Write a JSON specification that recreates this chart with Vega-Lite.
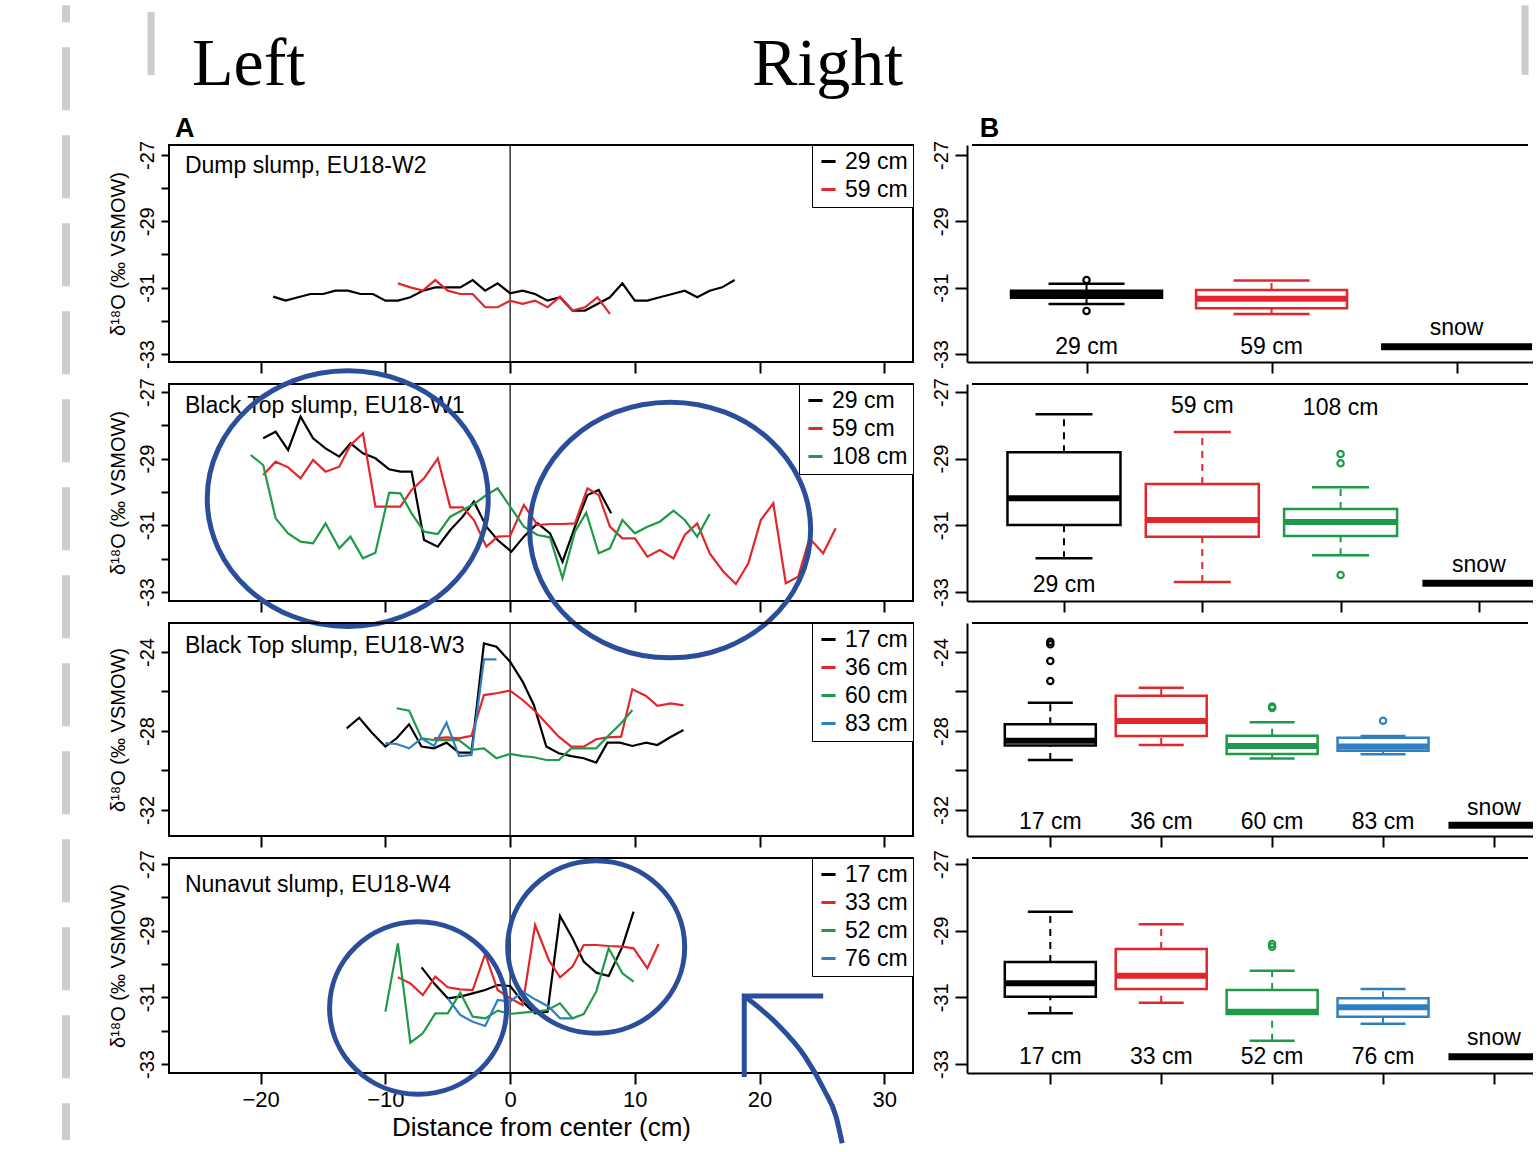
{
"$schema": "https://vega.github.io/schema/vega-lite/v6.json",
"autosize": {"type": "pad"},
"padding": {"left": 60, "top": 0, "right": 0, "bottom": 0},
"background": "white",
"columns": 2,
"align": "each",
"bounds": "flush",
"spacing": {"row": 22, "column": 54},
"resolve": {"scale": {"x": "independent", "y": "independent", "color": "independent", "stroke": "independent"}, "axis": {"x": "independent", "y": "independent"}, "legend": {"color": "independent"}},
"config": {
  "font": "Liberation Sans",
  "view": {"stroke": "#000000", "strokeWidth": 2},
  "axis": {"domainColor": "#000", "domainWidth": 2, "tickColor": "#000", "tickWidth": 2, "labelColor": "#000", "titleColor": "#000", "titleFontWeight": "normal", "grid": false, "labelFont": "Liberation Sans", "titleFont": "Liberation Sans"},
  "legend": {"orient": "top-right", "offset": 0, "padding": 5, "strokeColor": "#000", "fillColor": "#fff", "symbolType": "stroke", "symbolStrokeWidth": 3, "symbolSize": 200, "labelFontSize": 23, "labelFont": "Liberation Sans", "labelColor": "#000", "rowPadding": 4, "labelOffset": 5, "labelLimit": 200}
},
"datasets": {
  "w2": [
    {"cat":"29 cm","x":-19,"y":-31.27},{"cat":"29 cm","x":-18,"y":-31.39},{"cat":"29 cm","x":-17,"y":-31.29},{"cat":"29 cm","x":-16,"y":-31.19},{"cat":"29 cm","x":-15,"y":-31.19},{"cat":"29 cm","x":-14,"y":-31.09},{"cat":"29 cm","x":-13,"y":-31.09},{"cat":"29 cm","x":-12,"y":-31.19},{"cat":"29 cm","x":-11,"y":-31.19},{"cat":"29 cm","x":-10,"y":-31.39},{"cat":"29 cm","x":-9,"y":-31.39},{"cat":"29 cm","x":-8,"y":-31.29},{"cat":"29 cm","x":-7,"y":-31.09},{"cat":"29 cm","x":-6,"y":-30.99},{"cat":"29 cm","x":-5,"y":-30.99},{"cat":"29 cm","x":-4,"y":-30.99},{"cat":"29 cm","x":-3,"y":-30.77},{"cat":"29 cm","x":-2,"y":-31.09},{"cat":"29 cm","x":-1,"y":-30.87},{"cat":"29 cm","x":0,"y":-31.17},{"cat":"29 cm","x":1,"y":-31.09},{"cat":"29 cm","x":2,"y":-31.19},{"cat":"29 cm","x":3,"y":-31.39},{"cat":"29 cm","x":4,"y":-31.29},{"cat":"29 cm","x":5,"y":-31.69},{"cat":"29 cm","x":6,"y":-31.69},{"cat":"29 cm","x":7,"y":-31.49},{"cat":"29 cm","x":8,"y":-31.29},{"cat":"29 cm","x":9,"y":-30.87},{"cat":"29 cm","x":10,"y":-31.39},{"cat":"29 cm","x":11,"y":-31.39},{"cat":"29 cm","x":12,"y":-31.29},{"cat":"29 cm","x":13,"y":-31.19},{"cat":"29 cm","x":14,"y":-31.09},{"cat":"29 cm","x":15,"y":-31.29},{"cat":"29 cm","x":16,"y":-31.09},{"cat":"29 cm","x":17,"y":-30.99},{"cat":"29 cm","x":18,"y":-30.77},
    {"cat":"59 cm","x":-9,"y":-30.87},{"cat":"59 cm","x":-8,"y":-30.99},{"cat":"59 cm","x":-7,"y":-31.09},{"cat":"59 cm","x":-6,"y":-30.77},{"cat":"59 cm","x":-5,"y":-31.09},{"cat":"59 cm","x":-4,"y":-31.19},{"cat":"59 cm","x":-3,"y":-31.19},{"cat":"59 cm","x":-2,"y":-31.59},{"cat":"59 cm","x":-1,"y":-31.59},{"cat":"59 cm","x":0,"y":-31.39},{"cat":"59 cm","x":1,"y":-31.49},{"cat":"59 cm","x":2,"y":-31.39},{"cat":"59 cm","x":3,"y":-31.59},{"cat":"59 cm","x":4,"y":-31.27},{"cat":"59 cm","x":5,"y":-31.69},{"cat":"59 cm","x":6,"y":-31.59},{"cat":"59 cm","x":7,"y":-31.29},{"cat":"59 cm","x":8,"y":-31.79}
  ],
  "w1": [
    {"cat":"29 cm","x":-19.8,"y":-28.39},{"cat":"29 cm","x":-18.8,"y":-28.19},{"cat":"29 cm","x":-17.8,"y":-28.74},{"cat":"29 cm","x":-16.8,"y":-27.74},{"cat":"29 cm","x":-15.8,"y":-28.39},{"cat":"29 cm","x":-14.8,"y":-28.69},{"cat":"29 cm","x":-13.7,"y":-28.94},{"cat":"29 cm","x":-12.8,"y":-28.54},{"cat":"29 cm","x":-11.8,"y":-28.84},{"cat":"29 cm","x":-10.8,"y":-28.99},{"cat":"29 cm","x":-9.7,"y":-29.32},{"cat":"29 cm","x":-8.8,"y":-29.39},{"cat":"29 cm","x":-7.9,"y":-29.39},{"cat":"29 cm","x":-6.9,"y":-31.44},{"cat":"29 cm","x":-5.8,"y":-31.64},{"cat":"29 cm","x":-4.8,"y":-31.14},{"cat":"29 cm","x":-3.8,"y":-30.74},{"cat":"29 cm","x":-2.9,"y":-30.29},{"cat":"29 cm","x":-1.9,"y":-31.04},{"cat":"29 cm","x":-1.0,"y":-31.44},{"cat":"29 cm","x":0.1,"y":-31.79},{"cat":"29 cm","x":1.1,"y":-31.34},{"cat":"29 cm","x":2.2,"y":-30.94},{"cat":"29 cm","x":3.2,"y":-31.24},{"cat":"29 cm","x":4.2,"y":-32.09},{"cat":"29 cm","x":5.2,"y":-31.04},{"cat":"29 cm","x":6.2,"y":-30.09},{"cat":"29 cm","x":7.1,"y":-29.94},{"cat":"29 cm","x":8.1,"y":-30.64},
    {"cat":"59 cm","x":-19.8,"y":-29.49},{"cat":"59 cm","x":-18.8,"y":-29.09},{"cat":"59 cm","x":-17.8,"y":-29.26},{"cat":"59 cm","x":-16.8,"y":-29.59},{"cat":"59 cm","x":-15.8,"y":-29.04},{"cat":"59 cm","x":-14.8,"y":-29.39},{"cat":"59 cm","x":-13.7,"y":-29.24},{"cat":"59 cm","x":-12.8,"y":-28.59},{"cat":"59 cm","x":-11.8,"y":-28.24},{"cat":"59 cm","x":-10.8,"y":-30.44},{"cat":"59 cm","x":-9.7,"y":-30.44},{"cat":"59 cm","x":-8.8,"y":-30.44},{"cat":"59 cm","x":-7.9,"y":-29.94},{"cat":"59 cm","x":-6.9,"y":-29.59},{"cat":"59 cm","x":-5.8,"y":-28.99},{"cat":"59 cm","x":-4.8,"y":-30.46},{"cat":"59 cm","x":-3.8,"y":-30.46},{"cat":"59 cm","x":-2.9,"y":-30.84},{"cat":"59 cm","x":-1.9,"y":-31.64},{"cat":"59 cm","x":-1.0,"y":-31.34},{"cat":"59 cm","x":0,"y":-31.32},{"cat":"59 cm","x":1.1,"y":-30.39},{"cat":"59 cm","x":2.2,"y":-30.99},{"cat":"59 cm","x":3.2,"y":-30.96},{"cat":"59 cm","x":4.2,"y":-30.96},{"cat":"59 cm","x":5.2,"y":-30.94},{"cat":"59 cm","x":6.2,"y":-29.89},{"cat":"59 cm","x":7.1,"y":-30.09},{"cat":"59 cm","x":8.0,"y":-31.04},{"cat":"59 cm","x":9.0,"y":-31.39},{"cat":"59 cm","x":10.0,"y":-31.39},{"cat":"59 cm","x":11.0,"y":-31.94},{"cat":"59 cm","x":12.0,"y":-31.74},{"cat":"59 cm","x":13.1,"y":-31.99},{"cat":"59 cm","x":14.0,"y":-31.29},{"cat":"59 cm","x":15.0,"y":-30.94},{"cat":"59 cm","x":16.0,"y":-31.84},{"cat":"59 cm","x":17.1,"y":-32.39},{"cat":"59 cm","x":18.1,"y":-32.76},{"cat":"59 cm","x":19.1,"y":-32.14},{"cat":"59 cm","x":20.1,"y":-30.84},{"cat":"59 cm","x":21.1,"y":-30.34},{"cat":"59 cm","x":22.1,"y":-32.74},{"cat":"59 cm","x":23.1,"y":-32.54},{"cat":"59 cm","x":24.0,"y":-31.39},{"cat":"59 cm","x":25.1,"y":-31.84},{"cat":"59 cm","x":26.1,"y":-31.09},
    {"cat":"108 cm","x":-20.8,"y":-28.89},{"cat":"108 cm","x":-19.8,"y":-29.19},{"cat":"108 cm","x":-18.8,"y":-30.79},{"cat":"108 cm","x":-17.8,"y":-31.24},{"cat":"108 cm","x":-16.8,"y":-31.49},{"cat":"108 cm","x":-15.8,"y":-31.54},{"cat":"108 cm","x":-14.8,"y":-30.94},{"cat":"108 cm","x":-13.7,"y":-31.69},{"cat":"108 cm","x":-12.8,"y":-31.34},{"cat":"108 cm","x":-11.8,"y":-31.99},{"cat":"108 cm","x":-10.8,"y":-31.82},{"cat":"108 cm","x":-9.7,"y":-30.02},{"cat":"108 cm","x":-8.8,"y":-30.04},{"cat":"108 cm","x":-7.9,"y":-30.64},{"cat":"108 cm","x":-6.9,"y":-31.19},{"cat":"108 cm","x":-5.8,"y":-31.26},{"cat":"108 cm","x":-4.8,"y":-30.74},{"cat":"108 cm","x":-3.8,"y":-30.54},{"cat":"108 cm","x":-2.9,"y":-30.36},{"cat":"108 cm","x":-1.9,"y":-30.09},{"cat":"108 cm","x":-1.0,"y":-29.89},{"cat":"108 cm","x":0.1,"y":-30.49},{"cat":"108 cm","x":1.1,"y":-31.04},{"cat":"108 cm","x":2.2,"y":-31.29},{"cat":"108 cm","x":3.2,"y":-31.36},{"cat":"108 cm","x":4.2,"y":-32.59},{"cat":"108 cm","x":5.2,"y":-31.19},{"cat":"108 cm","x":6.1,"y":-30.62},{"cat":"108 cm","x":7.1,"y":-31.84},{"cat":"108 cm","x":8.0,"y":-31.69},{"cat":"108 cm","x":9.0,"y":-30.84},{"cat":"108 cm","x":10.0,"y":-31.24},{"cat":"108 cm","x":11.0,"y":-31.04},{"cat":"108 cm","x":12.0,"y":-30.89},{"cat":"108 cm","x":13.1,"y":-30.56},{"cat":"108 cm","x":14.0,"y":-30.84},{"cat":"108 cm","x":15.0,"y":-31.34},{"cat":"108 cm","x":16.0,"y":-30.66}
  ],
  "w3": [
    {"cat":"17 cm","x":-13.1,"y":-27.87},{"cat":"17 cm","x":-12.1,"y":-27.33},{"cat":"17 cm","x":-11.1,"y":-28.08},{"cat":"17 cm","x":-10.0,"y":-28.79},{"cat":"17 cm","x":-9.1,"y":-28.37},{"cat":"17 cm","x":-8.1,"y":-27.66},{"cat":"17 cm","x":-7.1,"y":-28.79},{"cat":"17 cm","x":-6.1,"y":-28.88},{"cat":"17 cm","x":-5.1,"y":-28.59},{"cat":"17 cm","x":-4.1,"y":-29.10},{"cat":"17 cm","x":-3.1,"y":-29.10},{"cat":"17 cm","x":-2.1,"y":-23.56},{"cat":"17 cm","x":-1.1,"y":-23.73},{"cat":"17 cm","x":0,"y":-24.49},{"cat":"17 cm","x":1.0,"y":-25.50},{"cat":"17 cm","x":1.9,"y":-26.68},{"cat":"17 cm","x":2.9,"y":-28.79},{"cat":"17 cm","x":3.9,"y":-29.13},{"cat":"17 cm","x":4.9,"y":-29.27},{"cat":"17 cm","x":5.9,"y":-29.38},{"cat":"17 cm","x":6.9,"y":-29.60},{"cat":"17 cm","x":7.8,"y":-28.59},{"cat":"17 cm","x":8.8,"y":-28.59},{"cat":"17 cm","x":9.8,"y":-28.76},{"cat":"17 cm","x":10.9,"y":-28.59},{"cat":"17 cm","x":11.8,"y":-28.71},{"cat":"17 cm","x":12.9,"y":-28.29},{"cat":"17 cm","x":13.9,"y":-27.95},
    {"cat":"36 cm","x":-6.1,"y":-28.37},{"cat":"36 cm","x":-5.1,"y":-28.32},{"cat":"36 cm","x":-4.1,"y":-28.37},{"cat":"36 cm","x":-3.1,"y":-28.25},{"cat":"36 cm","x":-2.1,"y":-26.18},{"cat":"36 cm","x":-1.1,"y":-26.09},{"cat":"36 cm","x":0,"y":-25.96},{"cat":"36 cm","x":1.0,"y":-26.43},{"cat":"36 cm","x":1.9,"y":-26.94},{"cat":"36 cm","x":2.9,"y":-27.61},{"cat":"36 cm","x":3.9,"y":-28.29},{"cat":"36 cm","x":4.9,"y":-28.79},{"cat":"36 cm","x":5.9,"y":-28.79},{"cat":"36 cm","x":6.9,"y":-28.42},{"cat":"36 cm","x":7.8,"y":-28.32},{"cat":"36 cm","x":8.9,"y":-28.29},{"cat":"36 cm","x":9.8,"y":-25.89},{"cat":"36 cm","x":10.9,"y":-26.23},{"cat":"36 cm","x":11.8,"y":-26.73},{"cat":"36 cm","x":12.9,"y":-26.60},{"cat":"36 cm","x":13.9,"y":-26.70},
    {"cat":"60 cm","x":-9.1,"y":-26.85},{"cat":"60 cm","x":-8.1,"y":-26.97},{"cat":"60 cm","x":-7.1,"y":-28.37},{"cat":"60 cm","x":-6.1,"y":-28.46},{"cat":"60 cm","x":-5.1,"y":-28.46},{"cat":"60 cm","x":-4.1,"y":-28.46},{"cat":"60 cm","x":-3.1,"y":-28.96},{"cat":"60 cm","x":-2.1,"y":-28.88},{"cat":"60 cm","x":-1.1,"y":-29.38},{"cat":"60 cm","x":0,"y":-29.16},{"cat":"60 cm","x":1.0,"y":-29.27},{"cat":"60 cm","x":1.9,"y":-29.33},{"cat":"60 cm","x":2.9,"y":-29.47},{"cat":"60 cm","x":3.9,"y":-29.47},{"cat":"60 cm","x":4.9,"y":-28.88},{"cat":"60 cm","x":5.9,"y":-28.88},{"cat":"60 cm","x":6.9,"y":-28.88},{"cat":"60 cm","x":7.8,"y":-28.29},{"cat":"60 cm","x":8.9,"y":-27.61},{"cat":"60 cm","x":9.8,"y":-26.94},
    {"cat":"83 cm","x":-10.0,"y":-28.62},{"cat":"83 cm","x":-9.1,"y":-28.66},{"cat":"83 cm","x":-8.1,"y":-28.88},{"cat":"83 cm","x":-7.1,"y":-28.37},{"cat":"83 cm","x":-6.1,"y":-28.76},{"cat":"83 cm","x":-5.1,"y":-27.58},{"cat":"83 cm","x":-4.1,"y":-29.27},{"cat":"83 cm","x":-3.1,"y":-29.22},{"cat":"83 cm","x":-2.1,"y":-24.37},{"cat":"83 cm","x":-1.1,"y":-24.37}
  ],
  "w4": [
    {"cat":"17 cm","x":-7.1,"y":-30.10},{"cat":"17 cm","x":-6.1,"y":-30.58},{"cat":"17 cm","x":-5.0,"y":-31.03},{"cat":"17 cm","x":-4.0,"y":-30.98},{"cat":"17 cm","x":-3.0,"y":-30.88},{"cat":"17 cm","x":-2.0,"y":-30.78},{"cat":"17 cm","x":-1.0,"y":-30.63},{"cat":"17 cm","x":0,"y":-30.66},{"cat":"17 cm","x":1.0,"y":-31.13},{"cat":"17 cm","x":2.0,"y":-31.48},{"cat":"17 cm","x":3.0,"y":-31.43},{"cat":"17 cm","x":4.0,"y":-28.56},{"cat":"17 cm","x":5.0,"y":-29.23},{"cat":"17 cm","x":5.9,"y":-29.93},{"cat":"17 cm","x":6.9,"y":-30.26},{"cat":"17 cm","x":7.9,"y":-30.36},{"cat":"17 cm","x":9.0,"y":-29.48},{"cat":"17 cm","x":9.9,"y":-28.43},
    {"cat":"33 cm","x":-9.0,"y":-30.40},{"cat":"33 cm","x":-8.0,"y":-30.58},{"cat":"33 cm","x":-7.0,"y":-30.93},{"cat":"33 cm","x":-6.0,"y":-30.38},{"cat":"33 cm","x":-5.0,"y":-30.70},{"cat":"33 cm","x":-4.0,"y":-30.76},{"cat":"33 cm","x":-3.0,"y":-30.78},{"cat":"33 cm","x":-2.0,"y":-29.70},{"cat":"33 cm","x":-1.0,"y":-30.78},{"cat":"33 cm","x":0,"y":-31.03},{"cat":"33 cm","x":1.0,"y":-31.23},{"cat":"33 cm","x":2.0,"y":-28.83},{"cat":"33 cm","x":3.1,"y":-29.88},{"cat":"33 cm","x":4.0,"y":-30.40},{"cat":"33 cm","x":5.0,"y":-30.08},{"cat":"33 cm","x":5.9,"y":-29.43},{"cat":"33 cm","x":6.9,"y":-29.43},{"cat":"33 cm","x":7.9,"y":-29.46},{"cat":"33 cm","x":9.0,"y":-29.48},{"cat":"33 cm","x":9.9,"y":-29.53},{"cat":"33 cm","x":11.0,"y":-30.13},{"cat":"33 cm","x":11.9,"y":-29.40},
    {"cat":"52 cm","x":-10.0,"y":-31.43},{"cat":"52 cm","x":-9.0,"y":-29.38},{"cat":"52 cm","x":-8.0,"y":-32.36},{"cat":"52 cm","x":-7.0,"y":-32.08},{"cat":"52 cm","x":-6.0,"y":-31.48},{"cat":"52 cm","x":-5.0,"y":-31.48},{"cat":"52 cm","x":-4.0,"y":-30.86},{"cat":"52 cm","x":-3.0,"y":-31.58},{"cat":"52 cm","x":-2.0,"y":-31.63},{"cat":"52 cm","x":-1.0,"y":-31.40},{"cat":"52 cm","x":0,"y":-31.50},{"cat":"52 cm","x":1.0,"y":-31.46},{"cat":"52 cm","x":2.0,"y":-31.43},{"cat":"52 cm","x":3.0,"y":-31.38},{"cat":"52 cm","x":4.0,"y":-31.18},{"cat":"52 cm","x":5.0,"y":-31.63},{"cat":"52 cm","x":5.9,"y":-31.50},{"cat":"52 cm","x":6.9,"y":-30.83},{"cat":"52 cm","x":7.9,"y":-29.53},{"cat":"52 cm","x":9.0,"y":-30.28},{"cat":"52 cm","x":9.9,"y":-30.53},
    {"cat":"76 cm","x":-5.0,"y":-31.03},{"cat":"76 cm","x":-4.0,"y":-31.53},{"cat":"76 cm","x":-3.0,"y":-31.73},{"cat":"76 cm","x":-2.0,"y":-31.86},{"cat":"76 cm","x":-1.0,"y":-31.08},{"cat":"76 cm","x":0,"y":-31.13},{"cat":"76 cm","x":1.0,"y":-30.83},{"cat":"76 cm","x":2.0,"y":-31.06},{"cat":"76 cm","x":3.1,"y":-31.28},{"cat":"76 cm","x":4.0,"y":-31.63},{"cat":"76 cm","x":5.0,"y":-31.63}
  ],
  "b1": [
    {"pos":1,"cat":"29 cm","lo":-31.49,"q1":-31.30,"med":-31.19,"q3":-31.09,"hi":-30.88},
    {"pos":2,"cat":"59 cm","lo":-31.79,"q1":-31.62,"med":-31.33,"q3":-31.07,"hi":-30.78}
  ],
  "b2": [
    {"pos":1,"cat":"29 cm","lo":-31.99,"q1":-30.99,"med":-30.19,"q3":-28.81,"hi":-27.67},
    {"pos":2,"cat":"59 cm","lo":-32.70,"q1":-31.34,"med":-30.84,"q3":-29.76,"hi":-28.20},
    {"pos":3,"cat":"108 cm","lo":-31.90,"q1":-31.32,"med":-30.90,"q3":-30.51,"hi":-29.86}
  ],
  "b3": [
    {"pos":1,"cat":"17 cm","lo":-29.47,"q1":-28.74,"med":-28.49,"q3":-27.66,"hi":-26.57},
    {"pos":2,"cat":"36 cm","lo":-28.71,"q1":-28.25,"med":-27.49,"q3":-26.21,"hi":-25.81},
    {"pos":3,"cat":"60 cm","lo":-29.40,"q1":-29.16,"med":-28.76,"q3":-28.24,"hi":-27.56},
    {"pos":4,"cat":"83 cm","lo":-29.18,"q1":-29.00,"med":-28.79,"q3":-28.34,"hi":-28.25}
  ],
  "b4": [
    {"pos":1,"cat":"17 cm","lo":-31.48,"q1":-30.98,"med":-30.58,"q3":-29.94,"hi":-28.43},
    {"pos":2,"cat":"33 cm","lo":-31.16,"q1":-30.75,"med":-30.35,"q3":-29.55,"hi":-28.81},
    {"pos":3,"cat":"52 cm","lo":-32.30,"q1":-31.50,"med":-31.43,"q3":-30.78,"hi":-30.20},
    {"pos":4,"cat":"76 cm","lo":-31.79,"q1":-31.58,"med":-31.30,"q3":-31.03,"hi":-30.75}
  ],
  "o1": [{"pos":1,"cat":"29 cm","v":-30.77},{"pos":1,"cat":"29 cm","v":-31.70}],
  "o2": [{"pos":3,"cat":"108 cm","v":-28.86},{"pos":3,"cat":"108 cm","v":-29.14},{"pos":3,"cat":"108 cm","v":-32.49}],
  "o3": [{"pos":1,"cat":"17 cm","v":-23.48},{"pos":1,"cat":"17 cm","v":-23.61},{"pos":1,"cat":"17 cm","v":-24.46},{"pos":1,"cat":"17 cm","v":-25.47},{"pos":3,"cat":"60 cm","v":-26.76},{"pos":3,"cat":"60 cm","v":-26.84},{"pos":4,"cat":"83 cm","v":-27.48}],
  "o4": [{"pos":3,"cat":"52 cm","v":-29.40},{"pos":3,"cat":"52 cm","v":-29.48}],
  "l1": [{"pos":1,"ly":-32.78,"label":"29 cm"},{"pos":2,"ly":-32.78,"label":"59 cm"},{"pos":3,"ly":-32.22,"label":"snow"},{"pos":0.4235,"ly":-26.46,"label":"B"}],
  "l2": [{"pos":1,"ly":-32.79,"label":"29 cm"},{"pos":2,"ly":-27.42,"label":"59 cm"},{"pos":3,"ly":-27.47,"label":"108 cm"},{"pos":4,"ly":-32.19,"label":"snow"}],
  "l3": [{"pos":1,"ly":-32.61,"label":"17 cm"},{"pos":2,"ly":-32.61,"label":"36 cm"},{"pos":3,"ly":-32.61,"label":"60 cm"},{"pos":4,"ly":-32.61,"label":"83 cm"},{"pos":5,"ly":-31.90,"label":"snow"}],
  "l4": [{"pos":1,"ly":-32.79,"label":"17 cm"},{"pos":2,"ly":-32.79,"label":"33 cm"},{"pos":3,"ly":-32.79,"label":"52 cm"},{"pos":4,"ly":-32.79,"label":"76 cm"},{"pos":5,"ly":-32.21,"label":"snow"}]
},
"concat": [
  {
    "width": 744, "height": 217,
    "encoding": {
      "x": {"field": "x", "type": "quantitative", "scale": {"domain": [-27.35, 32.3], "nice": false, "zero": false}, "axis": {"values": [-20,-10,0,10,20,30], "labels": false, "title": null, "tickSize": 11, "domain": false}},
      "y": {"field": "y", "type": "quantitative", "scale": {"domain": [-33.24, -26.70], "nice": false, "zero": false}, "axis": {"values": [-33,-32,-31,-30,-29,-28,-27], "labelExpr": "datum.value % 2 != 0 ? '' + datum.value : ''", "labelAngle": 270, "labelAlign": "center", "labelBaseline": "bottom", "labelPadding": 4, "labelFontSize": 20, "tickSize": 8, "title": "δ¹⁸O (‰ VSMOW)", "titleFontSize": 20, "titlePadding": 9, "domain": false}}
    },
    "layer": [
      {"data": {"values": [{"x": -35.61, "y": -22.49, "y2": -56.69}]}, "mark": {"type": "rule", "color": "#cccccc", "strokeWidth": 8, "strokeDash": [63, 25], "strokeDashOffset": 46}, "encoding": {"y2": {"field": "y2"}}},
      {"data": {"values": [{"x": -28.79, "y": -22.69, "y2": -24.59}]}, "mark": {"type": "rule", "color": "#cccccc", "strokeWidth": 7}, "encoding": {"y2": {"field": "y2"}}},
      {"data": {"values": [{"x": -25.51, "y": -24.89, "label": "Left"}, {"x": 19.39, "y": -24.89, "label": "Right"}]}, "mark": {"type": "text", "align": "left", "baseline": "alphabetic", "font": "Liberation Serif", "fontSize": 68, "color": "#000"}, "encoding": {"text": {"field": "label"}}},
      {"data": {"values": [{"x": -26.87, "y": -26.46, "label": "A"}]}, "mark": {"type": "text", "align": "left", "baseline": "alphabetic", "fontSize": 27, "fontWeight": "bold", "color": "#000"}, "encoding": {"text": {"field": "label"}}},
      {"data": {"values": [{"x": 0, "y": -26.70, "y2": -33.24}]}, "mark": {"type": "rule", "color": "#000", "strokeWidth": 1.2}, "encoding": {"y2": {"field": "y2"}}},
      {"data": {"name": "w2"}, "mark": {"type": "line", "strokeWidth": 2.2}, "encoding": {"color": {"field": "cat", "type": "nominal", "scale": {"domain": ["29 cm", "59 cm"], "range": ["#000000", "#e3262b"]}, "legend": {"title": null}}}},
      {"data": {"values": [{"x": -26.07, "y": -27.54, "label": "Dump slump, EU18-W2"}]}, "mark": {"type": "text", "align": "left", "baseline": "alphabetic", "fontSize": 23, "color": "#000"}, "encoding": {"text": {"field": "label"}}}
    ]
  },
  {
    "width": 566, "height": 217,
    "view": {"stroke": null},
    "encoding": {"x": {"field": "pos", "type": "quantitative", "scale": {"domain": [0.381, 3.386], "nice": false, "zero": false}, "axis": {"values": [1, 2, 3], "labels": false, "title": null, "tickSize": 11}}},
    "layer": [
      {"data": {"name": "b1"}, "mark": {"type": "rule", "strokeWidth": 2, "strokeDash": [7, 6]}, "encoding": {"y": {"field": "q3", "type": "quantitative", "title": null, "scale": {"domain": [-33.24, -26.70], "nice": false, "zero": false}, "axis": {"values": [-33,-32,-31,-30,-29,-28,-27], "labelExpr": "datum.value % 2 != 0 ? '' + datum.value : ''", "labelAngle": 270, "labelAlign": "center", "labelBaseline": "bottom", "labelPadding": 4, "labelFontSize": 20, "tickSize": 12, "title": null}}, "y2": {"field": "hi"}, "color": {"field": "cat", "type": "nominal", "scale": {"domain": ["29 cm", "59 cm"], "range": ["#000000", "#e3262b"]}, "legend": null}}},
      {"data": {"name": "b1"}, "mark": {"type": "rule", "strokeWidth": 2, "strokeDash": [7, 6]}, "encoding": {"y": {"field": "lo", "type": "quantitative", "title": null, "scale": {"domain": [-33.24, -26.70], "nice": false, "zero": false}}, "y2": {"field": "q1"}, "color": {"field": "cat", "type": "nominal", "scale": {"domain": ["29 cm", "59 cm"], "range": ["#000000", "#e3262b"]}, "legend": null}}},
      {"data": {"name": "b1"}, "mark": {"type": "tick", "orient": "horizontal", "size": 76, "thickness": 2.5, "opacity": 1}, "encoding": {"y": {"field": "hi", "type": "quantitative", "title": null, "scale": {"domain": [-33.24, -26.70], "nice": false, "zero": false}}, "color": {"field": "cat", "type": "nominal", "scale": {"domain": ["29 cm", "59 cm"], "range": ["#000000", "#e3262b"]}, "legend": null}}},
      {"data": {"name": "b1"}, "mark": {"type": "tick", "orient": "horizontal", "size": 76, "thickness": 2.5, "opacity": 1}, "encoding": {"y": {"field": "lo", "type": "quantitative", "title": null, "scale": {"domain": [-33.24, -26.70], "nice": false, "zero": false}}, "color": {"field": "cat", "type": "nominal", "scale": {"domain": ["29 cm", "59 cm"], "range": ["#000000", "#e3262b"]}, "legend": null}}},
      {"data": {"name": "b1"}, "mark": {"type": "bar", "size": 151, "fill": "white", "strokeWidth": 2.5}, "encoding": {"y": {"field": "q1", "type": "quantitative", "title": null, "scale": {"domain": [-33.24, -26.70], "nice": false, "zero": false}}, "y2": {"field": "q3"}, "stroke": {"field": "cat", "type": "nominal", "scale": {"domain": ["29 cm", "59 cm"], "range": ["#000000", "#e3262b"]}, "legend": null}}},
      {"data": {"name": "b1"}, "mark": {"type": "tick", "orient": "horizontal", "size": 151, "thickness": 6, "opacity": 1}, "encoding": {"y": {"field": "med", "type": "quantitative", "title": null, "scale": {"domain": [-33.24, -26.70], "nice": false, "zero": false}}, "color": {"field": "cat", "type": "nominal", "scale": {"domain": ["29 cm", "59 cm"], "range": ["#000000", "#e3262b"]}, "legend": null}}},
      {"data": {"name": "o1"}, "mark": {"type": "point", "filled": false, "size": 40, "strokeWidth": 2.2, "opacity": 1}, "encoding": {"y": {"field": "v", "type": "quantitative", "title": null, "scale": {"domain": [-33.24, -26.70], "nice": false, "zero": false}}, "color": {"field": "cat", "type": "nominal", "scale": {"domain": ["29 cm", "59 cm"], "range": ["#000000", "#e3262b"]}, "legend": null}}},
      {"data": {"name": "l1"}, "transform": [{"filter": "datum.label != 'B'"}], "mark": {"type": "text", "fontSize": 23, "color": "#000", "baseline": "middle"}, "encoding": {"y": {"field": "ly", "type": "quantitative", "title": null, "scale": {"domain": [-33.24, -26.70], "nice": false, "zero": false}}, "text": {"field": "label"}}},
      {"data": {"name": "l1"}, "transform": [{"filter": "datum.label == 'B'"}], "mark": {"type": "text", "fontSize": 27, "fontWeight": "bold", "color": "#000", "align": "left", "baseline": "alphabetic"}, "encoding": {"y": {"field": "ly", "type": "quantitative", "title": null, "scale": {"domain": [-33.24, -26.70], "nice": false, "zero": false}}, "text": {"field": "label"}}},
      {"data": {"values": [{"pos": 3, "v": -32.78}]}, "mark": {"type": "tick", "orient": "horizontal", "size": 151, "thickness": 7, "color": "#000", "opacity": 1, "clip": true}, "encoding": {"y": {"field": "v", "type": "quantitative", "title": null, "scale": {"domain": [-33.24, -26.70], "nice": false, "zero": false}}}},
      {"data": {"values": [{"pos": 0.381, "pos2": 3.386, "v": -26.70}]}, "mark": {"type": "rule", "color": "#000", "strokeWidth": 2}, "encoding": {"x2": {"field": "pos2"}, "y": {"field": "v", "type": "quantitative", "title": null, "scale": {"domain": [-33.24, -26.70], "nice": false, "zero": false}}}},
      {"data": {"values": [{"pos": 3.37, "v": -22.49, "v2": -24.59}]}, "mark": {"type": "rule", "color": "#cccccc", "strokeWidth": 7}, "encoding": {"y": {"field": "v", "type": "quantitative", "title": null, "scale": {"domain": [-33.24, -26.70], "nice": false, "zero": false}}, "y2": {"field": "v2"}}}
    ]
  },
  {
    "width": 744, "height": 217,
    "encoding": {
      "x": {"field": "x", "type": "quantitative", "scale": {"domain": [-27.35, 32.3], "nice": false, "zero": false}, "axis": {"values": [-20,-10,0,10,20,30], "labels": false, "title": null, "tickSize": 11, "domain": false}},
      "y": {"field": "y", "type": "quantitative", "scale": {"domain": [-33.27, -26.76], "nice": false, "zero": false}, "axis": {"values": [-33,-32,-31,-30,-29,-28,-27], "labelExpr": "datum.value % 2 != 0 ? '' + datum.value : ''", "labelAngle": 270, "labelAlign": "center", "labelBaseline": "bottom", "labelPadding": 4, "labelFontSize": 20, "tickSize": 8, "title": "δ¹⁸O (‰ VSMOW)", "titleFontSize": 20, "titlePadding": 9, "domain": false}}
    },
    "layer": [
      {"data": {"values": [{"x": 0, "y": -26.76, "y2": -33.27}]}, "mark": {"type": "rule", "color": "#000", "strokeWidth": 1.2}, "encoding": {"y2": {"field": "y2"}}},
      {"data": {"name": "w1"}, "mark": {"type": "line", "strokeWidth": 2.2}, "encoding": {"color": {"field": "cat", "type": "nominal", "scale": {"domain": ["29 cm", "59 cm", "108 cm"], "range": ["#000000", "#e3262b", "#1f9a48"]}, "legend": {"title": null}}}},
      {"data": {"values": [{"x": -26.07, "y": -27.64, "label": "Black Top slump, EU18-W1"}]}, "mark": {"type": "text", "align": "left", "baseline": "alphabetic", "fontSize": 23, "color": "#000"}, "encoding": {"text": {"field": "label"}}},
      {"data": {"values": [{"x": -13.02, "y": -30.20}, {"x": 12.83, "y": -31.14}]}, "mark": {"type": "point", "shape": "M -1 0 A 1 0.91 0 1 1 1 0 A 1 0.91 0 1 1 -1 0 Z", "size": 78961, "filled": false, "stroke": "#2b4e9b", "strokeWidth": 5, "opacity": 1}}
    ]
  },
  {
    "width": 566, "height": 217,
    "view": {"stroke": null},
    "encoding": {"x": {"field": "pos", "type": "quantitative", "scale": {"domain": [0.335, 4.355], "nice": false, "zero": false}, "axis": {"values": [1, 2, 3, 4], "labels": false, "title": null, "tickSize": 11}}},
    "layer": [
      {"data": {"name": "b2"}, "mark": {"type": "rule", "strokeWidth": 2, "strokeDash": [7, 6]}, "encoding": {"y": {"field": "q3", "type": "quantitative", "title": null, "scale": {"domain": [-33.27, -26.76], "nice": false, "zero": false}, "axis": {"values": [-33,-32,-31,-30,-29,-28,-27], "labelExpr": "datum.value % 2 != 0 ? '' + datum.value : ''", "labelAngle": 270, "labelAlign": "center", "labelBaseline": "bottom", "labelPadding": 4, "labelFontSize": 20, "tickSize": 12, "title": null}}, "y2": {"field": "hi"}, "color": {"field": "cat", "type": "nominal", "scale": {"domain": ["29 cm", "59 cm", "108 cm"], "range": ["#000000", "#e3262b", "#1f9a48"]}, "legend": null}}},
      {"data": {"name": "b2"}, "mark": {"type": "rule", "strokeWidth": 2, "strokeDash": [7, 6]}, "encoding": {"y": {"field": "lo", "type": "quantitative", "title": null, "scale": {"domain": [-33.27, -26.76], "nice": false, "zero": false}}, "y2": {"field": "q1"}, "color": {"field": "cat", "type": "nominal", "scale": {"domain": ["29 cm", "59 cm", "108 cm"], "range": ["#000000", "#e3262b", "#1f9a48"]}, "legend": null}}},
      {"data": {"name": "b2"}, "mark": {"type": "tick", "orient": "horizontal", "size": 57, "thickness": 2.5, "opacity": 1}, "encoding": {"y": {"field": "hi", "type": "quantitative", "title": null, "scale": {"domain": [-33.27, -26.76], "nice": false, "zero": false}}, "color": {"field": "cat", "type": "nominal", "scale": {"domain": ["29 cm", "59 cm", "108 cm"], "range": ["#000000", "#e3262b", "#1f9a48"]}, "legend": null}}},
      {"data": {"name": "b2"}, "mark": {"type": "tick", "orient": "horizontal", "size": 57, "thickness": 2.5, "opacity": 1}, "encoding": {"y": {"field": "lo", "type": "quantitative", "title": null, "scale": {"domain": [-33.27, -26.76], "nice": false, "zero": false}}, "color": {"field": "cat", "type": "nominal", "scale": {"domain": ["29 cm", "59 cm", "108 cm"], "range": ["#000000", "#e3262b", "#1f9a48"]}, "legend": null}}},
      {"data": {"name": "b2"}, "mark": {"type": "bar", "size": 113, "fill": "white", "strokeWidth": 2.5}, "encoding": {"y": {"field": "q1", "type": "quantitative", "title": null, "scale": {"domain": [-33.27, -26.76], "nice": false, "zero": false}}, "y2": {"field": "q3"}, "stroke": {"field": "cat", "type": "nominal", "scale": {"domain": ["29 cm", "59 cm", "108 cm"], "range": ["#000000", "#e3262b", "#1f9a48"]}, "legend": null}}},
      {"data": {"name": "b2"}, "mark": {"type": "tick", "orient": "horizontal", "size": 113, "thickness": 6, "opacity": 1}, "encoding": {"y": {"field": "med", "type": "quantitative", "title": null, "scale": {"domain": [-33.27, -26.76], "nice": false, "zero": false}}, "color": {"field": "cat", "type": "nominal", "scale": {"domain": ["29 cm", "59 cm", "108 cm"], "range": ["#000000", "#e3262b", "#1f9a48"]}, "legend": null}}},
      {"data": {"name": "o2"}, "mark": {"type": "point", "filled": false, "size": 40, "strokeWidth": 2.2, "opacity": 1}, "encoding": {"y": {"field": "v", "type": "quantitative", "title": null, "scale": {"domain": [-33.27, -26.76], "nice": false, "zero": false}}, "color": {"field": "cat", "type": "nominal", "scale": {"domain": ["29 cm", "59 cm", "108 cm"], "range": ["#000000", "#e3262b", "#1f9a48"]}, "legend": null}}},
      {"data": {"name": "l2"}, "mark": {"type": "text", "fontSize": 23, "color": "#000", "baseline": "middle"}, "encoding": {"y": {"field": "ly", "type": "quantitative", "title": null, "scale": {"domain": [-33.27, -26.76], "nice": false, "zero": false}}, "text": {"field": "label"}}},
      {"data": {"values": [{"pos": 4, "v": -32.74}]}, "mark": {"type": "tick", "orient": "horizontal", "size": 113, "thickness": 7, "color": "#000", "opacity": 1, "clip": true}, "encoding": {"y": {"field": "v", "type": "quantitative", "title": null, "scale": {"domain": [-33.27, -26.76], "nice": false, "zero": false}}}},
      {"data": {"values": [{"pos": 0.335, "pos2": 4.355, "v": -26.76}]}, "mark": {"type": "rule", "color": "#000", "strokeWidth": 2}, "encoding": {"x2": {"field": "pos2"}, "y": {"field": "v", "type": "quantitative", "title": null, "scale": {"domain": [-33.27, -26.76], "nice": false, "zero": false}}}}
    ]
  },
  {
    "width": 744, "height": 213,
    "encoding": {
      "x": {"field": "x", "type": "quantitative", "scale": {"domain": [-27.35, 32.3], "nice": false, "zero": false}, "axis": {"values": [-20,-10,0,10,20,30], "labels": false, "title": null, "tickSize": 11, "domain": false}},
      "y": {"field": "y", "type": "quantitative", "scale": {"domain": [-33.32, -22.53], "nice": false, "zero": false}, "axis": {"values": [-32,-30,-28,-26,-24], "labelExpr": "datum.value % 4 == 0 ? '' + datum.value : ''", "labelAngle": 270, "labelAlign": "center", "labelBaseline": "bottom", "labelPadding": 4, "labelFontSize": 20, "tickSize": 8, "title": "δ¹⁸O (‰ VSMOW)", "titleFontSize": 20, "titlePadding": 9, "domain": false}}
    },
    "layer": [
      {"data": {"values": [{"x": 0, "y": -22.53, "y2": -33.32}]}, "mark": {"type": "rule", "color": "#000", "strokeWidth": 1.2}, "encoding": {"y2": {"field": "y2"}}},
      {"data": {"name": "w3"}, "mark": {"type": "line", "strokeWidth": 2.2}, "encoding": {"color": {"field": "cat", "type": "nominal", "scale": {"domain": ["17 cm", "36 cm", "60 cm", "83 cm"], "range": ["#000000", "#e3262b", "#1f9a48", "#2f7fc1"]}, "legend": {"title": null}}}},
      {"data": {"values": [{"x": -26.07, "y": -24.07, "label": "Black Top slump, EU18-W3"}]}, "mark": {"type": "text", "align": "left", "baseline": "alphabetic", "fontSize": 23, "color": "#000"}, "encoding": {"text": {"field": "label"}}}
    ]
  },
  {
    "width": 566, "height": 213,
    "view": {"stroke": null},
    "encoding": {"x": {"field": "pos", "type": "quantitative", "scale": {"domain": [0.294, 5.307], "nice": false, "zero": false}, "axis": {"values": [1, 2, 3, 4, 5], "labels": false, "title": null, "tickSize": 11}}},
    "layer": [
      {"data": {"name": "b3"}, "mark": {"type": "rule", "strokeWidth": 2, "strokeDash": [7, 6]}, "encoding": {"y": {"field": "q3", "type": "quantitative", "title": null, "scale": {"domain": [-33.32, -22.53], "nice": false, "zero": false}, "axis": {"values": [-32,-30,-28,-26,-24], "labelExpr": "datum.value % 4 == 0 ? '' + datum.value : ''", "labelAngle": 270, "labelAlign": "center", "labelBaseline": "bottom", "labelPadding": 4, "labelFontSize": 20, "tickSize": 12, "title": null}}, "y2": {"field": "hi"}, "color": {"field": "cat", "type": "nominal", "scale": {"domain": ["17 cm", "36 cm", "60 cm", "83 cm"], "range": ["#000000", "#e3262b", "#1f9a48", "#2f7fc1"]}, "legend": null}}},
      {"data": {"name": "b3"}, "mark": {"type": "rule", "strokeWidth": 2, "strokeDash": [7, 6]}, "encoding": {"y": {"field": "lo", "type": "quantitative", "title": null, "scale": {"domain": [-33.32, -22.53], "nice": false, "zero": false}}, "y2": {"field": "q1"}, "color": {"field": "cat", "type": "nominal", "scale": {"domain": ["17 cm", "36 cm", "60 cm", "83 cm"], "range": ["#000000", "#e3262b", "#1f9a48", "#2f7fc1"]}, "legend": null}}},
      {"data": {"name": "b3"}, "mark": {"type": "tick", "orient": "horizontal", "size": 45, "thickness": 2.5, "opacity": 1}, "encoding": {"y": {"field": "hi", "type": "quantitative", "title": null, "scale": {"domain": [-33.32, -22.53], "nice": false, "zero": false}}, "color": {"field": "cat", "type": "nominal", "scale": {"domain": ["17 cm", "36 cm", "60 cm", "83 cm"], "range": ["#000000", "#e3262b", "#1f9a48", "#2f7fc1"]}, "legend": null}}},
      {"data": {"name": "b3"}, "mark": {"type": "tick", "orient": "horizontal", "size": 45, "thickness": 2.5, "opacity": 1}, "encoding": {"y": {"field": "lo", "type": "quantitative", "title": null, "scale": {"domain": [-33.32, -22.53], "nice": false, "zero": false}}, "color": {"field": "cat", "type": "nominal", "scale": {"domain": ["17 cm", "36 cm", "60 cm", "83 cm"], "range": ["#000000", "#e3262b", "#1f9a48", "#2f7fc1"]}, "legend": null}}},
      {"data": {"name": "b3"}, "mark": {"type": "bar", "size": 91, "fill": "white", "strokeWidth": 2.5}, "encoding": {"y": {"field": "q1", "type": "quantitative", "title": null, "scale": {"domain": [-33.32, -22.53], "nice": false, "zero": false}}, "y2": {"field": "q3"}, "stroke": {"field": "cat", "type": "nominal", "scale": {"domain": ["17 cm", "36 cm", "60 cm", "83 cm"], "range": ["#000000", "#e3262b", "#1f9a48", "#2f7fc1"]}, "legend": null}}},
      {"data": {"name": "b3"}, "mark": {"type": "tick", "orient": "horizontal", "size": 91, "thickness": 6, "opacity": 1}, "encoding": {"y": {"field": "med", "type": "quantitative", "title": null, "scale": {"domain": [-33.32, -22.53], "nice": false, "zero": false}}, "color": {"field": "cat", "type": "nominal", "scale": {"domain": ["17 cm", "36 cm", "60 cm", "83 cm"], "range": ["#000000", "#e3262b", "#1f9a48", "#2f7fc1"]}, "legend": null}}},
      {"data": {"name": "o3"}, "mark": {"type": "point", "filled": false, "size": 40, "strokeWidth": 2.2, "opacity": 1}, "encoding": {"y": {"field": "v", "type": "quantitative", "title": null, "scale": {"domain": [-33.32, -22.53], "nice": false, "zero": false}}, "color": {"field": "cat", "type": "nominal", "scale": {"domain": ["17 cm", "36 cm", "60 cm", "83 cm"], "range": ["#000000", "#e3262b", "#1f9a48", "#2f7fc1"]}, "legend": null}}},
      {"data": {"name": "l3"}, "mark": {"type": "text", "fontSize": 23, "color": "#000", "baseline": "middle"}, "encoding": {"y": {"field": "ly", "type": "quantitative", "title": null, "scale": {"domain": [-33.32, -22.53], "nice": false, "zero": false}}, "text": {"field": "label"}}},
      {"data": {"values": [{"pos": 5, "v": -32.78}]}, "mark": {"type": "tick", "orient": "horizontal", "size": 91, "thickness": 7, "color": "#000", "opacity": 1, "clip": true}, "encoding": {"y": {"field": "v", "type": "quantitative", "title": null, "scale": {"domain": [-33.32, -22.53], "nice": false, "zero": false}}}},
      {"data": {"values": [{"pos": 0.294, "pos2": 5.307, "v": -22.53}]}, "mark": {"type": "rule", "color": "#000", "strokeWidth": 2}, "encoding": {"x2": {"field": "pos2"}, "y": {"field": "v", "type": "quantitative", "title": null, "scale": {"domain": [-33.32, -22.53], "nice": false, "zero": false}}}}
    ]
  },
  {
    "width": 744, "height": 215,
    "encoding": {
      "x": {"field": "x", "type": "quantitative", "scale": {"domain": [-27.35, 32.3], "nice": false, "zero": false}, "axis": {"values": [-20,-10,0,10,20,30], "labels": true, "format": "d", "labelFontSize": 22, "labelPadding": 5, "title": "Distance from center (cm)", "titleFontSize": 26, "titlePadding": 4, "tickSize": 11, "domain": false}},
      "y": {"field": "y", "type": "quantitative", "scale": {"domain": [-33.27, -26.82], "nice": false, "zero": false}, "axis": {"values": [-33,-32,-31,-30,-29,-28,-27], "labelExpr": "datum.value % 2 != 0 ? '' + datum.value : ''", "labelAngle": 270, "labelAlign": "center", "labelBaseline": "bottom", "labelPadding": 4, "labelFontSize": 20, "tickSize": 8, "title": "δ¹⁸O (‰ VSMOW)", "titleFontSize": 20, "titlePadding": 9, "domain": false}}
    },
    "layer": [
      {"data": {"values": [{"x": 0, "y": -26.82, "y2": -33.27}]}, "mark": {"type": "rule", "color": "#000", "strokeWidth": 1.2}, "encoding": {"y2": {"field": "y2"}}},
      {"data": {"name": "w4"}, "mark": {"type": "line", "strokeWidth": 2.2}, "encoding": {"color": {"field": "cat", "type": "nominal", "scale": {"domain": ["17 cm", "33 cm", "52 cm", "76 cm"], "range": ["#000000", "#e3262b", "#1f9a48", "#2f7fc1"]}, "legend": {"title": null}}}},
      {"data": {"values": [{"x": -26.07, "y": -27.84, "label": "Nunavut slump, EU18-W4"}]}, "mark": {"type": "text", "align": "left", "baseline": "alphabetic", "fontSize": 23, "color": "#000"}, "encoding": {"text": {"field": "label"}}},
      {"data": {"values": [{"x": -7.38, "y": -31.32}, {"x": 6.90, "y": -29.49}]}, "mark": {"type": "point", "shape": "M -1 0 A 1 0.975 0 1 1 1 0 A 1 0.975 0 1 1 -1 0 Z", "size": 31329, "filled": false, "stroke": "#2b4e9b", "strokeWidth": 5, "opacity": 1}},
      {"data": {"values": [{"x": 25.10, "y": -30.96, "s": 1}, {"x": 18.77, "y": -30.96, "s": 2}, {"x": 18.77, "y": -33.39, "s": 3}]}, "mark": {"type": "line", "color": "#2b4e9b", "strokeWidth": 5, "strokeCap": "butt", "strokeJoin": "miter"}, "encoding": {"order": {"field": "s", "type": "quantitative"}}},
      {"data": {"values": [{"x": 18.9, "y": -31.0, "s": 1}, {"x": 21.33, "y": -31.77, "s": 2}, {"x": 23.66, "y": -32.79, "s": 3}, {"x": 25.18, "y": -33.78, "s": 4}, {"x": 26.14, "y": -34.59, "s": 5}, {"x": 26.62, "y": -35.38, "s": 6}]}, "mark": {"type": "line", "color": "#2b4e9b", "strokeWidth": 5, "interpolate": "monotone"}, "encoding": {"order": {"field": "s", "type": "quantitative"}}}
    ]
  },
  {
    "width": 566, "height": 215,
    "view": {"stroke": null},
    "encoding": {"x": {"field": "pos", "type": "quantitative", "scale": {"domain": [0.294, 5.307], "nice": false, "zero": false}, "axis": {"values": [1, 2, 3, 4, 5], "labels": false, "title": null, "tickSize": 11}}},
    "layer": [
      {"data": {"name": "b4"}, "mark": {"type": "rule", "strokeWidth": 2, "strokeDash": [7, 6]}, "encoding": {"y": {"field": "q3", "type": "quantitative", "title": null, "scale": {"domain": [-33.27, -26.82], "nice": false, "zero": false}, "axis": {"values": [-33,-32,-31,-30,-29,-28,-27], "labelExpr": "datum.value % 2 != 0 ? '' + datum.value : ''", "labelAngle": 270, "labelAlign": "center", "labelBaseline": "bottom", "labelPadding": 4, "labelFontSize": 20, "tickSize": 12, "title": null}}, "y2": {"field": "hi"}, "color": {"field": "cat", "type": "nominal", "scale": {"domain": ["17 cm", "33 cm", "52 cm", "76 cm"], "range": ["#000000", "#e3262b", "#1f9a48", "#2f7fc1"]}, "legend": null}}},
      {"data": {"name": "b4"}, "mark": {"type": "rule", "strokeWidth": 2, "strokeDash": [7, 6]}, "encoding": {"y": {"field": "lo", "type": "quantitative", "title": null, "scale": {"domain": [-33.27, -26.82], "nice": false, "zero": false}}, "y2": {"field": "q1"}, "color": {"field": "cat", "type": "nominal", "scale": {"domain": ["17 cm", "33 cm", "52 cm", "76 cm"], "range": ["#000000", "#e3262b", "#1f9a48", "#2f7fc1"]}, "legend": null}}},
      {"data": {"name": "b4"}, "mark": {"type": "tick", "orient": "horizontal", "size": 45, "thickness": 2.5, "opacity": 1}, "encoding": {"y": {"field": "hi", "type": "quantitative", "title": null, "scale": {"domain": [-33.27, -26.82], "nice": false, "zero": false}}, "color": {"field": "cat", "type": "nominal", "scale": {"domain": ["17 cm", "33 cm", "52 cm", "76 cm"], "range": ["#000000", "#e3262b", "#1f9a48", "#2f7fc1"]}, "legend": null}}},
      {"data": {"name": "b4"}, "mark": {"type": "tick", "orient": "horizontal", "size": 45, "thickness": 2.5, "opacity": 1}, "encoding": {"y": {"field": "lo", "type": "quantitative", "title": null, "scale": {"domain": [-33.27, -26.82], "nice": false, "zero": false}}, "color": {"field": "cat", "type": "nominal", "scale": {"domain": ["17 cm", "33 cm", "52 cm", "76 cm"], "range": ["#000000", "#e3262b", "#1f9a48", "#2f7fc1"]}, "legend": null}}},
      {"data": {"name": "b4"}, "mark": {"type": "bar", "size": 91, "fill": "white", "strokeWidth": 2.5}, "encoding": {"y": {"field": "q1", "type": "quantitative", "title": null, "scale": {"domain": [-33.27, -26.82], "nice": false, "zero": false}}, "y2": {"field": "q3"}, "stroke": {"field": "cat", "type": "nominal", "scale": {"domain": ["17 cm", "33 cm", "52 cm", "76 cm"], "range": ["#000000", "#e3262b", "#1f9a48", "#2f7fc1"]}, "legend": null}}},
      {"data": {"name": "b4"}, "mark": {"type": "tick", "orient": "horizontal", "size": 91, "thickness": 6, "opacity": 1}, "encoding": {"y": {"field": "med", "type": "quantitative", "title": null, "scale": {"domain": [-33.27, -26.82], "nice": false, "zero": false}}, "color": {"field": "cat", "type": "nominal", "scale": {"domain": ["17 cm", "33 cm", "52 cm", "76 cm"], "range": ["#000000", "#e3262b", "#1f9a48", "#2f7fc1"]}, "legend": null}}},
      {"data": {"name": "o4"}, "mark": {"type": "point", "filled": false, "size": 40, "strokeWidth": 2.2, "opacity": 1}, "encoding": {"y": {"field": "v", "type": "quantitative", "title": null, "scale": {"domain": [-33.27, -26.82], "nice": false, "zero": false}}, "color": {"field": "cat", "type": "nominal", "scale": {"domain": ["17 cm", "33 cm", "52 cm", "76 cm"], "range": ["#000000", "#e3262b", "#1f9a48", "#2f7fc1"]}, "legend": null}}},
      {"data": {"name": "l4"}, "mark": {"type": "text", "fontSize": 23, "color": "#000", "baseline": "middle"}, "encoding": {"y": {"field": "ly", "type": "quantitative", "title": null, "scale": {"domain": [-33.27, -26.82], "nice": false, "zero": false}}, "text": {"field": "label"}}},
      {"data": {"values": [{"pos": 5, "v": -32.78}]}, "mark": {"type": "tick", "orient": "horizontal", "size": 91, "thickness": 7, "color": "#000", "opacity": 1, "clip": true}, "encoding": {"y": {"field": "v", "type": "quantitative", "title": null, "scale": {"domain": [-33.27, -26.82], "nice": false, "zero": false}}}},
      {"data": {"values": [{"pos": 0.294, "pos2": 5.307, "v": -26.82}]}, "mark": {"type": "rule", "color": "#000", "strokeWidth": 2}, "encoding": {"x2": {"field": "pos2"}, "y": {"field": "v", "type": "quantitative", "title": null, "scale": {"domain": [-33.27, -26.82], "nice": false, "zero": false}}}}
    ]
  }
]
}
